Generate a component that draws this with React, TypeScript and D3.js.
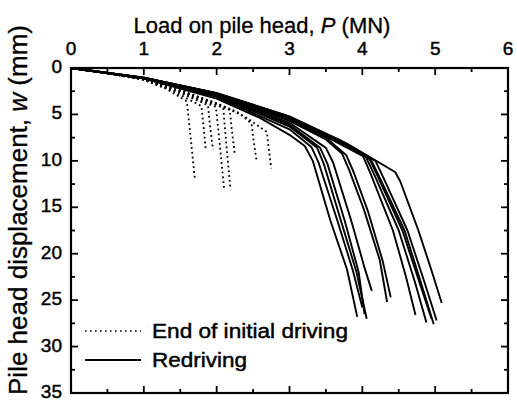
import React from "react";
import * as d3 from "d3";

// ---- axis ticks ----
const xTickValues = [0, 1, 2, 3, 4, 5, 6];
const xMinorValues = [0.5, 1.5, 2.5, 3.5, 4.5, 5.5];
const yTickValues = [0, 5, 10, 15, 20, 25, 30, 35];
const yMinorValues = [2.5, 7.5, 12.5, 17.5, 22.5, 27.5, 32.5];

// ---- End of initial driving (dotted) : [P (MN), w (mm)] ----
const eoid1 = [[0, 0], [0.5, 0.55], [1, 1.3], [1.3, 2.2], [1.59, 3.6], [1.63, 6.5], [1.7, 11.9]];
const eoid2 = [[0, 0], [0.5, 0.55], [1, 1.25], [1.4, 2.5], [1.79, 4.1], [1.82, 6.3], [1.85, 8.8]];
const eoid3 = [[0, 0], [0.5, 0.55], [1, 1.25], [1.5, 2.7], [1.88, 4.0], [1.91, 6.3], [1.95, 8.8]];
const eoid4 = [[0, 0], [0.5, 0.55], [1, 1.2], [1.5, 2.6], [1.99, 4.2], [2.04, 8.0], [2.1, 12.9]];
const eoid5 = [[0, 0], [0.5, 0.55], [1, 1.2], [1.5, 2.5], [2.09, 4.3], [2.13, 8.0], [2.19, 13.1]];
const eoid6 = [[0, 0], [0.5, 0.55], [1, 1.2], [1.5, 2.45], [2.18, 4.5], [2.21, 6.8], [2.25, 9.4]];
const eoid7 = [[0, 0], [0.5, 0.55], [1, 1.15], [1.5, 2.4], [2.0, 3.8], [2.3, 4.8], [2.48, 6.0], [2.51, 8.0], [2.55, 10.1]];
const eoid8 = [[0, 0], [0.5, 0.55], [1, 1.15], [1.5, 2.4], [2.0, 3.8], [2.4, 5.3], [2.69, 6.9], [2.72, 9.0], [2.75, 10.8]];

// ---- Redriving (solid) : [P (MN), w (mm)] ----
const redrive1 = [[0, 0], [1, 1.15], [2, 3.3], [2.6, 5.4], [3.0, 7.2], [3.21, 8.4], [3.32, 10.0], [3.56, 16.4], [3.79, 21.7], [3.93, 26.8]];
const redrive2 = [[0, 0], [1, 1.12], [2, 3.1], [3.0, 6.6], [3.3, 8.5], [3.4, 10.2], [3.66, 16.5], [3.87, 21.8], [4.0, 25.8]];
const redrive3 = [[0, 0], [1, 1.1], [2, 3.0], [3.0, 6.3], [3.38, 8.6], [3.47, 10.3], [3.72, 16.8], [3.92, 22.0], [4.06, 27.0]];
const redrive4 = [[0, 0], [1, 1.1], [2, 2.95], [3.0, 6.1], [3.42, 8.6], [3.52, 10.3], [3.76, 16.5], [3.95, 22.0], [4.03, 26.5]];
const redrive5 = [[0, 0], [1, 1.1], [2, 2.9], [3.0, 5.9], [3.5, 8.6], [3.6, 10.2], [3.85, 16.5], [4.03, 21.5], [4.13, 24.0]];
const redrive6 = [[0, 0], [1, 1.1], [2, 2.85], [3, 5.7], [3.5, 7.7], [3.72, 9.2], [3.82, 11.0], [4.02, 15.2], [4.24, 20.7], [4.34, 25.2]];
const redrive7 = [[0, 0], [1, 1.1], [2, 2.8], [3, 5.6], [3.5, 7.5], [3.78, 9.4], [3.88, 11.2], [4.08, 15.5], [4.28, 20.8], [4.39, 24.7]];
const redrive8 = [[0, 0], [1, 1.1], [2, 2.8], [3, 5.5], [3.6, 7.8], [4.01, 9.5], [4.12, 11.5], [4.42, 17.5], [4.6, 22.5], [4.73, 26.6]];
const redrive9 = [[0, 0], [1, 1.1], [2, 2.75], [3, 5.4], [3.6, 7.6], [4.05, 9.6], [4.17, 11.6], [4.5, 17.5], [4.72, 23.0], [4.88, 27.4]];
const redrive10 = [[0, 0], [1, 1.05], [2, 2.75], [3, 5.3], [3.6, 7.5], [4.1, 9.8], [4.22, 11.8], [4.55, 17.5], [4.78, 23.0], [4.95, 27.0]];
const redrive11 = [[0, 0], [1, 1.05], [2, 2.72], [3, 5.3], [3.65, 7.7], [4.12, 9.9], [4.25, 12.0], [4.58, 17.5], [4.8, 23.0], [4.98, 27.6]];
const redrive12 = [[0, 0], [1, 1.05], [2, 2.7], [3, 5.25], [3.7, 7.8], [4.18, 10.0], [4.3, 12.0], [4.62, 17.5], [4.85, 23.0], [5.02, 27.2]];
const redrive13 = [[0, 0], [1, 1.05], [2, 2.7], [3, 5.2], [3.8, 8.2], [4.45, 11.2], [4.52, 12.2], [4.77, 17.5], [4.95, 21.8], [5.09, 25.3]];

const dottedSeries = [eoid1, eoid2, eoid3, eoid4, eoid5, eoid6, eoid7, eoid8];
const solidSeries = [redrive1, redrive2, redrive3, redrive4, redrive5, redrive6, redrive7, redrive8, redrive9, redrive10, redrive11, redrive12, redrive13];

const xTitleMain = "Load on pile head, ";
const xTitleVar = "P";
const xTitleUnit = " (MN)";
const yTitleMain = "Pile head displacement, ";
const yTitleVar = "w";
const yTitleUnit = " (mm)";
const legendLabels = ["End of initial driving", "Redriving"];

const FONT = "'Liberation Sans', Arial, Helvetica, sans-serif";

export default function App() {
  const W = 517, H = 404;
  const left = 71, right = 508, top = 68, bottom = 393;
  const x = d3.scaleLinear().domain([0, 6]).range([left, right]);
  const y = d3.scaleLinear().domain([0, 35]).range([top, bottom]);
  const line = d3.line<number[]>().x((d) => x(d[0])).y((d) => y(d[1])).curve(d3.curveLinear);

  const major = 7, minor = 4;
  const txt = { fill: "#000", stroke: "#000", strokeWidth: 0.45 };

  return (
    <svg width={W} height={H} style={{ position: "absolute", left: 0, top: 0, background: "#fff" }} fontFamily={FONT}>
      <rect x={0} y={0} width={W} height={H} fill="#fff" />
      {/* curves */}
      <g fill="none" stroke="#000" strokeLinejoin="round">
        {dottedSeries.map((s, i) => (
          <path key={"d" + i} d={line(s) || ""} strokeWidth={1.8} strokeDasharray="1.8,3" />
        ))}
        {solidSeries.map((s, i) => (
          <path key={"s" + i} d={line(s) || ""} strokeWidth={1.9} />
        ))}
      </g>

      {/* frame */}
      <rect x={left} y={top} width={right - left} height={bottom - top} fill="none" stroke="#000" strokeWidth={2.2} />

      {/* ticks */}
      <g stroke="#000" strokeWidth={1.8}>
        {xTickValues.map((v) => (
          <g key={"xt" + v}>
            <line x1={x(v)} x2={x(v)} y1={top} y2={top + major} />
            <line x1={x(v)} x2={x(v)} y1={bottom} y2={bottom - major} />
          </g>
        ))}
        {xMinorValues.map((v) => (
          <g key={"xm" + v}>
            <line x1={x(v)} x2={x(v)} y1={top} y2={top + minor} />
            <line x1={x(v)} x2={x(v)} y1={bottom} y2={bottom - minor} />
          </g>
        ))}
        {yTickValues.map((v) => (
          <g key={"yt" + v}>
            <line x1={left} x2={left + major} y1={y(v)} y2={y(v)} />
            <line x1={right} x2={right - major} y1={y(v)} y2={y(v)} />
          </g>
        ))}
        {yMinorValues.map((v) => (
          <g key={"ym" + v}>
            <line x1={left} x2={left + minor} y1={y(v)} y2={y(v)} />
            <line x1={right} x2={right - minor} y1={y(v)} y2={y(v)} />
          </g>
        ))}
      </g>

      {/* tick labels */}
      <g fontSize={19} {...txt}>
        {xTickValues.map((v) => (
          <text key={"xl" + v} x={x(v)} y={55} textAnchor="middle">{v}</text>
        ))}
        {yTickValues.map((v) => (
          <text key={"yl" + v} x={62} y={y(v) + 5} textAnchor="end">{v}</text>
        ))}
      </g>

      {/* axis titles */}
      <text x={262} y={33} textAnchor="middle" fontSize={22} {...txt} strokeWidth={0.3}>
        {xTitleMain}<tspan fontStyle="italic">{xTitleVar}</tspan>{xTitleUnit}
      </text>
      <text transform={`translate(27,210) rotate(-90)`} textAnchor="middle" fontSize={26} {...txt} strokeWidth={0.3}>
        {yTitleMain}<tspan fontStyle="italic">{yTitleVar}</tspan>{yTitleUnit}
      </text>

      {/* legend */}
      <g>
        <line x1={85} x2={141} y1={331} y2={331} stroke="#000" strokeWidth={1.6} strokeDasharray="1.6,3.4" />
        <text x={152} y={338} fontSize={20} {...txt} textLength={196} lengthAdjust="spacingAndGlyphs">{legendLabels[0]}</text>
        <line x1={85} x2={141} y1={360} y2={360} stroke="#000" strokeWidth={1.9} />
        <text x={152} y={367} fontSize={20} {...txt} textLength={95} lengthAdjust="spacingAndGlyphs">{legendLabels[1]}</text>
      </g>
    </svg>
  );
}
